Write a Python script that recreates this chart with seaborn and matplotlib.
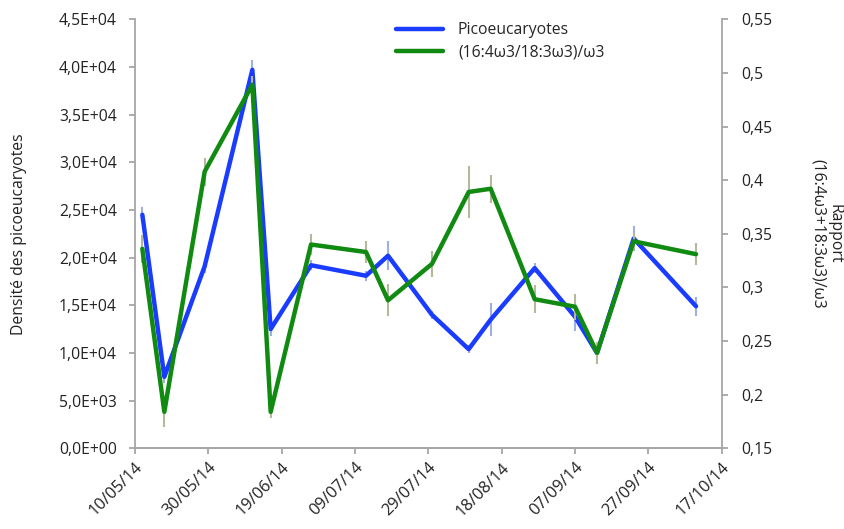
import matplotlib
matplotlib.use("Agg")
import matplotlib.pyplot as plt
import matplotlib.dates as mdates
from matplotlib.ticker import FuncFormatter, MultipleLocator
import seaborn as sns
import pandas as pd
import numpy as np

# ---- data ----
dates = ["2014-05-12", "2014-05-18", "2014-05-29", "2014-06-11", "2014-06-16",
         "2014-06-27", "2014-07-12", "2014-07-18", "2014-07-30", "2014-08-09",
         "2014-08-15", "2014-08-27", "2014-09-07", "2014-09-13", "2014-09-23",
         "2014-10-10"]
pico = [24500, 7500, 19100, 39700, 12500, 19200, 18100, 20200, 14000, 10400,
        13500, 18900, 13800, 10000, 22000, 14900]
pico_err = [800, 600, 700, 1000, 700, 500, 500, 1500, 400, 400,
            1700, 500, 1500, 400, 1300, 1000]
ratio = [0.336, 0.184, 0.408, 0.489, 0.184, 0.340, 0.333, 0.288, 0.322, 0.389,
         0.392, 0.289, 0.282, 0.239, 0.343, 0.331]
ratio_err = [0.013, 0.014, 0.013, 0.008, 0.006, 0.010, 0.010, 0.015, 0.012, 0.024,
             0.013, 0.013, 0.012, 0.010, 0.008, 0.010]
xtick_dates = ["2014-05-10", "2014-05-30", "2014-06-19", "2014-07-09", "2014-07-29",
               "2014-08-18", "2014-09-07", "2014-09-27", "2014-10-17"]
label_pico = "Picoeucaryotes"
label_ratio = "(16:4ω3/18:3ω3)/ω3"

df = pd.DataFrame({"date": pd.to_datetime(dates), "pico": pico, "pico_err": pico_err,
                   "ratio": ratio, "ratio_err": ratio_err})

sns.set_theme(style="white")
plt.rcParams["font.family"] = ["Open Sans", "DejaVu Sans"]

BLUE = "#1a3cff"
GREEN = "#118a11"
SPINE = "#a6a6a6"
TXT = "#222222"

fig = plt.figure(figsize=(8.45, 5.29), dpi=100)
ax = fig.add_axes([135/845, 1-448.3/529, (721.7-135)/845, (448.3-19.3)/529])
ax2 = ax.twinx()

# error bars (behind lines)
ax.errorbar(df["date"], df["pico"], yerr=df["pico_err"], fmt="none",
            ecolor="#9fb0e0", elinewidth=1.5, capsize=0, zorder=1)
ax2.errorbar(df["date"], df["ratio"], yerr=df["ratio_err"], fmt="none",
             ecolor="#b5b89c", elinewidth=1.5, capsize=0, zorder=1)

sns.lineplot(data=df, x="date", y="pico", ax=ax, color=BLUE, linewidth=3.2,
             label=label_pico, legend=False, zorder=3)
sns.lineplot(data=df, x="date", y="ratio", ax=ax2, color=GREEN, linewidth=3.2,
             label=label_ratio, legend=False, zorder=3)

xt = pd.to_datetime(xtick_dates)
ax.set_xlim(xt[0], xt[-1])
ax.set_xticks(xt)
ax.xaxis.set_major_formatter(mdates.DateFormatter("%d/%m/%y"))

ax.set_ylim(0, 45000)
ax.yaxis.set_major_locator(MultipleLocator(5000))
ax.yaxis.set_major_formatter(FuncFormatter(lambda v, p: f"{v:.1E}".replace(".", ",")))
ax2.set_ylim(0.15, 0.55)
ax2.yaxis.set_major_locator(MultipleLocator(0.05))
ax2.yaxis.set_major_formatter(FuncFormatter(lambda v, p: f"{round(v, 2):g}".replace(".", ",")))

fs = 11.3
for a in (ax, ax2):
    a.set_facecolor("none")
    a.spines["top"].set_visible(False)
    for s in ("left", "right", "bottom"):
        a.spines[s].set_color(SPINE)
        a.spines[s].set_linewidth(1.3)
    a.tick_params(axis="both", which="major", direction="out", length=4, width=1.3,
                  color=SPINE, labelsize=fs, labelcolor=TXT)
    a.set_xlabel("")
ax.spines["right"].set_visible(False)
ax2.spines["left"].set_visible(False)
ax.tick_params(axis="y", left=True, pad=9)
ax.tick_params(axis="x", bottom=True, pad=4)
ax2.tick_params(axis="y", right=True, pad=10)
for lbl in ax.get_xticklabels():
    lbl.set_rotation(45)
    lbl.set_ha("right")
    lbl.set_rotation_mode("anchor")
    lbl.set_fontsize(11.8)

ax.set_ylabel("Densité des picoeucaryotes", fontsize=fs, color=TXT)
ax.yaxis.set_label_coords((27-135)/586.7, 0.5)
ax2.set_ylabel("Rapport\n(16:4ω3+18:3ω3)/ω3", fontsize=fs, color=TXT,
               rotation=270, linespacing=1.1)
ax2.yaxis.set_label_coords((843-135)/586.7, 0.5)

h1, l1 = ax.get_legend_handles_labels()
h2, l2 = ax2.get_legend_handles_labels()
fig.legend(h1 + h2, l1 + l2, loc="upper left", bbox_to_anchor=(396/845, 1-22/529),
           frameon=False, fontsize=fs, handlelength=3.0, handletextpad=0.95,
           labelspacing=0.42, borderaxespad=0, borderpad=0)

fig.savefig("out.png", dpi=100)
